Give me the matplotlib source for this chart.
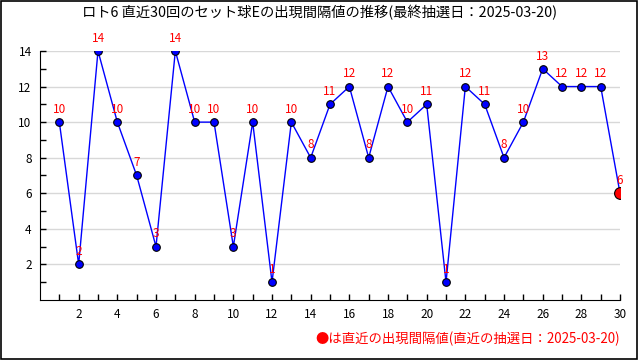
import matplotlib
matplotlib.use("Agg")
import matplotlib.pyplot as plt
from matplotlib.patches import Rectangle

plt.rcParams['font.family'] = ['Noto Sans CJK JP', 'DejaVu Sans']

# data
draws = list(range(1, 31))
intervals = [10, 2, 14, 10, 7, 3, 14, 10, 10, 3, 10, 1, 10, 8, 11,
             12, 8, 12, 10, 11, 1, 12, 11, 8, 10, 13, 12, 12, 12, 6]
title = "ロト6 直近30回のセット球Eの出現間隔値の推移(最終抽選日：2025-03-20)"
note = "●は直近の出現間隔値(直近の抽選日：2025-03-20)"

fig = plt.figure(figsize=(6.4, 3.6), dpi=100)
ax = fig.add_axes([0.0625, 0.1667, 0.9063, 0.6917])

ax.plot(draws, intervals, color='blue', lw=1, zorder=3)
ax.plot(draws[:-1], intervals[:-1], 'o', color='blue', mec='black', mew=0.8, ms=5.5, zorder=4)
ax.plot(draws[-1:], intervals[-1:], 'o', color='red', mec='black', mew=0.8, ms=8.5, zorder=5)

for x, y in zip(draws, intervals):
    ax.annotate(str(y), (x, y), xytext=(0, 4.5), textcoords='offset points',
                ha='center', va='bottom', color='red', fontsize=8.5, zorder=6,
                annotation_clip=False)

ax.set_xlim(0, 30)
ax.set_ylim(0, 14)
ax.set_xticks(range(2, 31, 2))
ax.set_xticks(range(1, 31), minor=True)
ax.set_yticks(range(2, 15, 2))
ax.set_yticks(range(1, 15), minor=True)
ax.tick_params(which='both', direction='in', length=4, width=1, labelsize=8.5, pad=6)
ax.grid(axis='y', color='#d8d8d8', lw=1, zorder=0)
ax.spines['top'].set_visible(False)
ax.spines['right'].set_visible(False)

fig.text(0.5, 0.965, title, ha='center', va='center', fontsize=10.3)
fig.text(0.969, 0.058, note, ha='right', va='center', fontsize=9.6, color='red')

fig.patches.append(Rectangle((0.001, 0.003), 0.994, 0.995, transform=fig.transFigure,
                             fill=False, edgecolor='black', lw=1.2))

fig.savefig("out.png", dpi=100)
